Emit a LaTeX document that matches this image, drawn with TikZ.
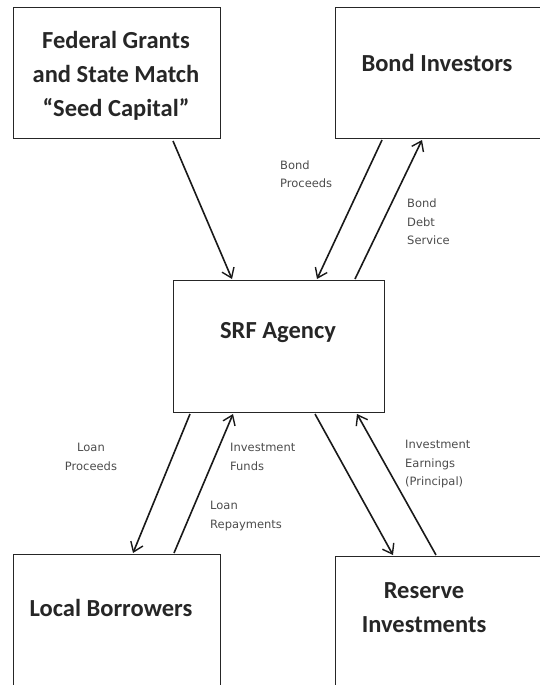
\documentclass[tikz,border=0pt]{standalone}
\usepackage{fontspec}
\setmainfont{Carlito}
\newfontfamily\flowfont{DejaVu Sans}
\usetikzlibrary{arrows.meta,calc}

\tikzset{
  party/.style={draw=black!85, line width=1pt, rectangle, inner sep=0pt, anchor=north west},
  boxtext/.style={font=\bfseries\fontsize{24.5}{34}\selectfont, text=black!85, align=center, inner sep=0pt},
  flowlabel/.style={font=\flowfont\fontsize{11.5}{18.5}\selectfont, text=black!70, inner sep=0pt},
  flow/.style={draw=black!90, line width=1.6pt, -{Straight Barb[length=9pt,width=13pt,line width=1.4pt]}}
}

\begin{document}
\begin{tikzpicture}[x=1pt, y=-1pt]
  \useasboundingbox (0,0) rectangle (540,685);
  \clip (0,0) rectangle (540,685);

  % the five parties; the right-hand and lower boxes run past the page edge
  \node[party, minimum width=207pt, minimum height=131pt] (fed) at (13,7) {};
  \node[party, minimum width=230pt, minimum height=131pt] (bond) at (335,7) {};
  \node[party, minimum width=211pt, minimum height=132pt] (srf) at (173,280) {};
  \node[party, minimum width=207pt, minimum height=150pt] (local) at (13,554) {};
  \node[party, minimum width=230pt, minimum height=150pt] (reserve) at (335,556) {};

  % box titles
  \node[boxtext] (fedtxt) at (116,76) {Federal Grants\\and State Match\\“Seed Capital”};
  \node[boxtext] (bondtxt) at (437,63) {Bond Investors};
  \node[boxtext] (srftxt) at (278,333) {SRF Agency};
  \node[boxtext] (localtxt) at (111,608) {Local Borrowers};
  \node[boxtext] (restxt) at (424,608) {Reserve\\Investments};

  % money flows
  \draw[flow] ($(fed.south west)+(160,2)$) -- ($(srf.north west)+(59,-1)$);
  \draw[flow] ($(bond.south west)+(47,1)$) -- ($(srf.north west)+(144,-1)$);
  \draw[flow] ($(srf.north west)+(182,-1)$) -- ($(bond.south west)+(87,1)$);
  \draw[flow] ($(srf.south west)+(17,1)$) -- ($(local.north west)+(120,-1)$);
  \draw[flow] ($(local.north west)+(161,-1)$) -- ($(srf.south west)+(60,1)$);
  \draw[flow] ($(srf.south west)+(142,1)$) -- ($(reserve.north west)+(58,-1)$);
  \draw[flow] ($(reserve.north west)+(101,-1)$) -- ($(srf.south west)+(184,1)$);

  % flow labels
  \node[flowlabel, anchor=west, align=left] (lbp) at (280,174) {Bond\\Proceeds};
  \node[flowlabel, anchor=west, align=left] (lbd) at (407,222) {Bond\\Debt\\Service};
  \node[flowlabel, align=center] (llp) at (91,457) {Loan\\Proceeds};
  \node[flowlabel, anchor=west, align=left] (lif) at (230,457) {Investment\\Funds};
  \node[flowlabel, anchor=west, align=left] (llr) at (210,516) {Loan\\Repayments};
  \node[flowlabel, anchor=west, align=left] (lie) at (405,464) {Investment\\Earnings\\(Principal)};
\end{tikzpicture}
\end{document}
